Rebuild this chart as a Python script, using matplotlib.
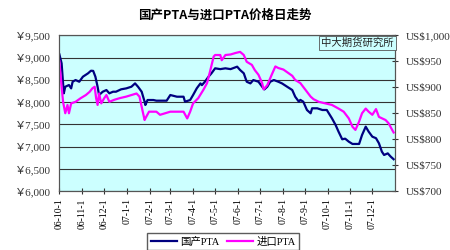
import pandas as pd
import matplotlib.pyplot as plt
import matplotlib.dates as mdates
from matplotlib.ticker import FuncFormatter

plt.rcParams['font.family'] = ['Liberation Serif', 'Noto Sans CJK SC', 'DejaVu Sans']

# === Data ===
dom_dates = ['2006-10-01', '2006-10-04', '2006-10-07', '2006-10-09', '2006-10-14', '2006-10-17',
             '2006-10-19', '2006-10-23', '2006-10-28', '2006-11-02', '2006-11-09', '2006-11-13',
             '2006-11-16', '2006-11-19', '2006-11-22', '2006-11-24', '2006-11-29', '2006-12-04',
             '2006-12-08', '2006-12-13', '2006-12-17', '2006-12-24', '2006-12-31', '2007-01-07',
             '2007-01-12', '2007-01-16', '2007-01-21', '2007-01-25', '2007-01-26', '2007-01-29',
             '2007-02-06', '2007-02-10', '2007-02-24', '2007-03-01', '2007-03-10', '2007-03-19',
             '2007-03-21', '2007-03-28', '2007-04-01', '2007-04-06', '2007-04-11', '2007-04-13',
             '2007-04-17', '2007-04-22', '2007-04-26', '2007-05-01', '2007-05-08', '2007-05-15',
             '2007-05-22', '2007-05-31', '2007-06-04', '2007-06-09', '2007-06-13', '2007-06-18',
             '2007-06-22', '2007-06-29', '2007-07-04', '2007-07-07', '2007-07-11', '2007-07-15',
             '2007-07-20', '2007-07-26', '2007-07-31', '2007-08-07', '2007-08-14', '2007-08-18',
             '2007-08-23', '2007-08-25', '2007-08-29', '2007-09-03', '2007-09-08', '2007-09-10',
             '2007-09-17', '2007-09-24', '2007-09-30', '2007-10-07', '2007-10-12', '2007-10-16',
             '2007-10-21', '2007-10-25', '2007-10-30', '2007-11-04', '2007-11-13', '2007-11-17',
             '2007-11-22', '2007-11-26', '2007-12-01', '2007-12-06', '2007-12-10', '2007-12-14',
             '2007-12-17', '2007-12-22', '2007-12-26', '2007-12-30']
dom_price = [9070, 8870, 8197, 8345, 8383, 8308,
             8457, 8495, 8457, 8570, 8646, 8704,
             8700, 8570, 8345, 8159, 8233, 8271,
             8197, 8233, 8233, 8287, 8308, 8345,
             8420, 8345, 8233, 8009, 7935, 8047,
             8047, 8032, 8032, 8159, 8121, 8121,
             8009, 8047, 8159, 8309, 8420, 8380,
             8457, 8570, 8646, 8758, 8740, 8758,
             8740, 8795, 8720, 8646, 8457, 8420,
             8495, 8457, 8345, 8285, 8345, 8457,
             8495, 8457, 8420, 8345, 8271, 8121,
             8009, 8050, 8009, 7823, 7749, 7861,
             7861, 7823, 7823, 7637, 7487, 7337,
             7166, 7180, 7112, 7061, 7061, 7262,
             7449, 7337, 7225, 7190, 7076, 6888,
             6814, 6850, 6777, 6718]

imp_dates = ['2006-10-01', '2006-10-04', '2006-10-06', '2006-10-09', '2006-10-12', '2006-10-14',
             '2006-10-17', '2006-10-23', '2006-10-30', '2006-11-06', '2006-11-11', '2006-11-15',
             '2006-11-18', '2006-11-20', '2006-11-22', '2006-11-24', '2006-11-27', '2006-12-01',
             '2006-12-04', '2006-12-08', '2006-12-15', '2006-12-22', '2006-12-31', '2007-01-07',
             '2007-01-14', '2007-01-18', '2007-01-22', '2007-01-25', '2007-01-26', '2007-01-31',
             '2007-02-10', '2007-02-15', '2007-03-01', '2007-03-19', '2007-03-24', '2007-03-28',
             '2007-04-01', '2007-04-08', '2007-04-15', '2007-04-20', '2007-04-24', '2007-04-29',
             '2007-05-01', '2007-05-08', '2007-05-10', '2007-05-15', '2007-05-22', '2007-05-29',
             '2007-06-04', '2007-06-09', '2007-06-13', '2007-06-20', '2007-06-24', '2007-06-29',
             '2007-07-04', '2007-07-06', '2007-07-11', '2007-07-17', '2007-07-22', '2007-07-26',
             '2007-08-02', '2007-08-09', '2007-08-14', '2007-08-18', '2007-08-25', '2007-09-01',
             '2007-09-08', '2007-09-12', '2007-09-19', '2007-09-28', '2007-10-07', '2007-10-16',
             '2007-10-23', '2007-10-30', '2007-11-04', '2007-11-08', '2007-11-13', '2007-11-17',
             '2007-11-22', '2007-11-26', '2007-12-01', '2007-12-06', '2007-12-10', '2007-12-19',
             '2007-12-23', '2007-12-28', '2007-12-30']
imp_price = [950, 901, 872, 850, 866, 850,
             869, 872, 879, 885, 891, 898,
             901, 879, 866, 888, 869, 879,
             885, 872, 876, 879, 882, 885,
             888, 882, 856, 837, 840, 853,
             853, 847, 853, 853, 840, 853,
             869, 879, 895, 908, 930, 959,
             962, 962, 952, 962, 963, 966,
             968, 962, 949, 943, 933, 924,
             908, 896, 904, 924, 940, 937,
             934, 927, 922, 914, 908, 895,
             882, 877, 872, 869, 866, 859,
             853, 840, 824, 818, 834, 850,
             859, 853, 847, 858, 843, 837,
             831, 818, 813]

month_ticks = pd.date_range('2006-10-01', '2007-12-01', freq='MS')

# === Plot ===
fig = plt.figure(figsize=(4.5, 2.5), dpi=100)
ax = fig.add_axes([0.132, 0.235, 0.746, 0.624])
ax.set_facecolor('#CCFFFF')

ax.plot(pd.to_datetime(dom_dates), dom_price, color='#000080', lw=1.6, label='国产PTA')
ax.set_ylim(6000, 9500)
ax.set_yticks(range(6000, 10000, 500))
ax.yaxis.set_major_formatter(FuncFormatter(lambda v, p: '￥{:,.0f}'.format(v)))
ax.grid(axis='y', color='#333333', lw=0.8)
ax.set_axisbelow(True)

ax.set_xlim(pd.Timestamp('2006-10-01'), pd.Timestamp('2008-01-01'))
ax.set_xticks(month_ticks)
ax.set_xticklabels(['{}-{}-1'.format(d.strftime('%y'), d.month) for d in month_ticks],
                   rotation=90, fontsize=7, family=['Liberation Serif'])
ax.tick_params(axis='x', direction='inout', length=4, color='#333333', pad=3)
ax.tick_params(axis='y', length=0, labelsize=8, pad=6, colors='#333333')

ax2 = ax.twinx()
ax2.plot(pd.to_datetime(imp_dates), imp_price, color='#FF00FF', lw=1.6, label='进口PTA')
ax2.set_ylim(700, 1000)
ax2.set_yticks(range(700, 1050, 50))
ax2.yaxis.set_major_formatter(FuncFormatter(lambda v, p: 'US${:,.0f}'.format(v)))
ax2.tick_params(axis='y', direction='inout', length=4, labelsize=8, pad=6, colors='#333333')
for a in (ax, ax2):
    for s in a.spines.values():
        s.set_color('#555555')

ax2.text(0.995, 0.985, '中大期货研究所', transform=ax2.transAxes, ha='right', va='top',
         fontsize=7.5, family=['Noto Sans CJK SC'], color='#222222',
         bbox=dict(facecolor='#CCFFFF', edgecolor='#555555', lw=0.6, pad=1.5))

fig.text(0.5, 0.94, '国产PTA与进口PTA价格日走势', ha='center', va='center',
         fontsize=9, fontweight='bold', family=['Noto Sans CJK SC'])

h1, l1 = ax.get_legend_handles_labels()
h2, l2 = ax2.get_legend_handles_labels()
fig.legend(h1 + h2, l1 + l2, loc='lower center', bbox_to_anchor=(0.496, -0.02), ncol=2,
           frameon=True, fancybox=False, edgecolor='#333333',
           handlelength=2.5, columnspacing=0.8, handletextpad=0.3, borderpad=0.3,
           prop={'family': ['Liberation Serif', 'Noto Sans CJK SC'], 'size': 7.5})

fig.savefig('out.png', dpi=100)
